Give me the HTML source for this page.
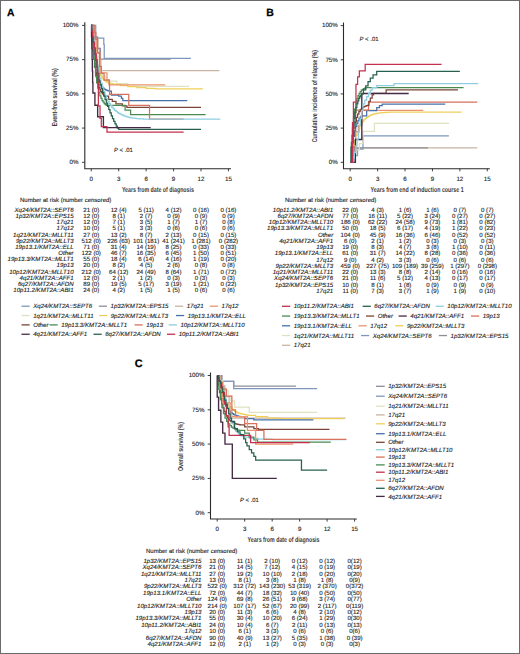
<!DOCTYPE html>
<html><head><meta charset="utf-8"><style>
html,body{margin:0;padding:0;background:#fff;overflow:hidden;width:520px;height:654px;}
svg{display:block;}
text{font-family:"Liberation Sans",sans-serif;text-rendering:geometricPrecision;}
.t{stroke:#222;stroke-width:0.12px;}
</style></head><body>
<svg width="520" height="654" viewBox="0 0 520 654" font-family="Liberation Sans, sans-serif" fill="#333">
<rect x="0" y="0" width="520" height="654" fill="#fff"/>
<text x="6.9" y="15.5" font-size="10.3" font-weight="bold" fill="#000" stroke="#000" stroke-width="0.25">A</text>
<path d="M84.8 22.3V168.7H231" fill="none" stroke="#2a2a2a" stroke-width="1.1"/>
<path d="M82 162.3H84.8M82 128.08H84.8M82 93.85H84.8M82 59.62H84.8M82 25.4H84.8M91.25 168.7V171.3M118.69 168.7V171.3M146.13 168.7V171.3M173.57 168.7V171.3M201.01 168.7V171.3M228.46 168.7V171.3" stroke="#2a2a2a" stroke-width="0.9"/>
<text class="t" x="78.5" y="164.1" font-size="6.2" text-anchor="end" fill="#1a1a1a">0%</text>
<text class="t" x="78.5" y="129.88" font-size="6.2" text-anchor="end" fill="#1a1a1a">25%</text>
<text class="t" x="78.5" y="95.65" font-size="6.2" text-anchor="end" fill="#1a1a1a">50%</text>
<text class="t" x="78.5" y="61.42" font-size="6.2" text-anchor="end" fill="#1a1a1a">75%</text>
<text class="t" x="78.5" y="27.2" font-size="6.2" text-anchor="end" fill="#1a1a1a">100%</text>
<text class="t" x="91.25" y="180.6" font-size="6.2" text-anchor="middle" fill="#1a1a1a">0</text>
<text class="t" x="118.69" y="180.6" font-size="6.2" text-anchor="middle" fill="#1a1a1a">3</text>
<text class="t" x="146.13" y="180.6" font-size="6.2" text-anchor="middle" fill="#1a1a1a">6</text>
<text class="t" x="173.57" y="180.6" font-size="6.2" text-anchor="middle" fill="#1a1a1a">9</text>
<text class="t" x="201.01" y="180.6" font-size="6.2" text-anchor="middle" fill="#1a1a1a">12</text>
<text class="t" x="228.46" y="180.6" font-size="6.2" text-anchor="middle" fill="#1a1a1a">15</text>
<text x="157.9" y="191.7" font-size="7.2" text-anchor="middle" textLength="72" lengthAdjust="spacingAndGlyphs" fill="#3a3a3a" font-weight="bold">Years from date of diagnosis</text>
<text transform="translate(57.4 97.3) rotate(-90)" x="0" y="0" font-size="7.2" text-anchor="middle" textLength="58" lengthAdjust="spacingAndGlyphs" fill="#3a3a3a" font-weight="bold">Event-free survival (%)</text>
<text x="113.9" y="151.5" class="t" font-size="5.95" fill="#222"><tspan font-style="italic">P</tspan> &lt; .01</text>
<path d="M91.25 25.4H93.08V36.76H95.82V48.26H99.48V59.63H100.85V70.58H219.31" fill="none" stroke="#c9b4a2" stroke-width="1.25"/>
<path d="M91.25 25.4H92.62V35.53H93.99V45.66H95.82V55.79H97.65V65.92H99.48V70.99H102.23V76.05H105.89V81.12H116.86V83.72H127.84V86.32H189.12" fill="none" stroke="#dfe2c0" stroke-width="1.25"/>
<path d="M91.25 25.4H93.99V36.76H97.65V48.26H100.4V59.08H170.83" fill="none" stroke="#8e8e98" stroke-width="1.25"/>
<path d="M91.25 25.4H95.73V38.13H103.78V44.29H104.24V58.39H190.95" fill="none" stroke="#7f97bc" stroke-width="1.25"/>
<path d="M91.25 25.4H92.16V35.27H93.08V43.51H93.99V50.37H94.91V56.09H95.82V60.86H96.74V64.84H97.65V68.16H98.57V70.92H99.48V73.23H100.4V75.15H101.31V76.75H102.23V78.09H103.14V79.21H104.06V80.13H104.97V80.91H105.89V81.55H106.8V82.09H107.71V82.54H108.63V82.92H109.54V83.23H110.46V83.49H111.37V83.7H112.29V83.89H113.2V84.04H114.12V84.16H115.03V84.27H120.52V85.64H127.84V86.73H136.99V87.69H146.13V88.37H155.28V88.92H202.84" fill="none" stroke="#efcf5a" stroke-width="1.25"/>
<path d="M91.25 25.4H93.99V39.09H96.74V52.78H99.94V72.9H106.98V79.75H109.27V84.95H165.34" fill="none" stroke="#ec9470" stroke-width="1.25"/>
<path d="M91.25 25.4H92.39V41.53H93.54V53.74H94.68V63H95.82V70H96.97V75.31H98.11V79.33H99.25V82.38H100.4V84.69H101.54V86.43H102.68V87.76H103.83V88.76H104.97V89.52H106.11V90.1H107.26V90.53H108.4V90.86H109.54V91.11H111.37V95.22H118.69V96.04H121.44V98.37H122.81V100.7H187.29" fill="none" stroke="#4672aa" stroke-width="1.25"/>
<path d="M91.25 25.4H92.11V39.18H92.97V50.36H93.82V59.44H94.68V66.82H95.54V72.8H96.4V77.67H97.25V81.61H98.11V84.82H98.97V87.42H99.83V89.53H100.68V91.25H101.54V92.64H102.4V93.77H103.26V94.69H104.11V95.44H104.97V96.04H108.63V99.33H112.29V101.38H115.95V103.98H122.35V105.76H126.92V107.27H201.01" fill="none" stroke="#7a4538" stroke-width="1.25"/>
<path d="M91.25 25.4H92.33V42.83H93.41V56.6H94.48V67.48H95.56V76.08H96.64V82.87H97.72V88.23H98.8V92.47H99.87V95.82H100.95V98.46H102.03V100.55H103.11V102.2H104.19V103.51H105.26V104.54H106.34V105.35H125.09V106.99H125.09V110H130.58V114.66H205.59" fill="none" stroke="#4a8a52" stroke-width="1.25"/>
<path d="M91.25 25.4H93.99V32.25H95.82V39.09H97.65V52.78H99.48V66.47H101.31V73.32H104.06V80.16H109.27V84.95H109.54V94.26H128.75V105.35H149.52V119.18H183.63" fill="none" stroke="#d8705c" stroke-width="1.25"/>
<path d="M91.25 25.4H92.62V37.41H93.99V47.88H95.37V57.02H96.74V65H98.11V71.95H99.48V78.02H100.85V83.32H102.23V87.94H103.6V91.98H104.97V95.49H106.34V98.57H107.71V101.24H109.09V103.58H110.46V105.62H111.83V107.4H113.2V108.95H114.57V110.31H115.95V111.49H117.32V112.52H118.69V113.42H120.06V114.21H121.44V114.89H122.81V115.49H124.18V116.01H125.55V116.46H126.92V116.86H128.3V117.21H129.67V117.51H131.04V117.77H132.41V118H133.78V118.21H135.16V118.38H136.53V118.53H137.9V118.67H139.27V118.78H140.64V118.88H142.02V118.97H143.39V119.05H144.76V119.12H146.13V119.18H220.22" fill="none" stroke="#8fcde0" stroke-width="1.25"/>
<path d="M91.25 25.4H91.71V29.51H92.16V33.61H92.62V37.72H93.08V41.83H93.99V47.3H94.91V54.15H95.82V60.99H96.74V67.15H97.65V73.32H98.84V80.84H100.09V84.76H101.32V88.59H102.56V92.34H103.81V96.01H105.04V99.59H106.29V103.06H107.52V106.44H108.77V109.7H110.01V112.85H111.25V115.86H112.49V118.72H113.73V121.42H114.97V123.93H116.21V126.19H117.45V128.12H118.69V129.44H201.01" fill="none" stroke="#27604f" stroke-width="1.25"/>
<path d="M91.25 25.4H91.52V36.76H91.8V48.26H92.07V59.63H92.35V70.99H92.62V82.49H92.9V93.03H94.91V105.21H97.65V116.71H103.42V127.66H150.71" fill="none" stroke="#452a45" stroke-width="1.35"/>
<path d="M91.25 25.4H91.71V31.15H92.62V36.76H93.54V42.51H94.45V48.26H95.37V53.88H96.28V59.63H97.2V70.99H97.84V82.49H98.38V105.76H100.03V118.49H101.31V126.71H106.98V132.18H183.63" fill="none" stroke="#c4304e" stroke-width="1.25"/>
<text class="t" x="20" y="202.1" font-size="6" fill="#222">Number at risk (number censored)</text>
<text class="t" x="73.6" y="211.8" font-size="6.12" text-anchor="end" font-style="italic" fill="#222">Xq24/KMT2A::SEPT6</text>
<text class="t" x="91.25" y="211.8" font-size="6.1" text-anchor="middle" fill="#222">21 (0)</text>
<text class="t" x="118.69" y="211.8" font-size="6.1" text-anchor="middle" fill="#222">12 (4)</text>
<text class="t" x="146.13" y="211.8" font-size="6.1" text-anchor="middle" fill="#222">5 (11)</text>
<text class="t" x="173.57" y="211.8" font-size="6.1" text-anchor="middle" fill="#222">4 (12)</text>
<text class="t" x="201.01" y="211.8" font-size="6.1" text-anchor="middle" fill="#222">0 (16)</text>
<text class="t" x="228.46" y="211.8" font-size="6.1" text-anchor="middle" fill="#222">0 (16)</text>
<text class="t" x="73.6" y="217.98" font-size="6.12" text-anchor="end" font-style="italic" fill="#222">1p32/KMT2A::EPS15</text>
<text class="t" x="91.25" y="217.98" font-size="6.1" text-anchor="middle" fill="#222">12 (0)</text>
<text class="t" x="118.69" y="217.98" font-size="6.1" text-anchor="middle" fill="#222">8 (1)</text>
<text class="t" x="146.13" y="217.98" font-size="6.1" text-anchor="middle" fill="#222">2 (7)</text>
<text class="t" x="173.57" y="217.98" font-size="6.1" text-anchor="middle" fill="#222">0 (9)</text>
<text class="t" x="201.01" y="217.98" font-size="6.1" text-anchor="middle" fill="#222">0 (9)</text>
<text class="t" x="228.46" y="217.98" font-size="6.1" text-anchor="middle" fill="#222">0 (9)</text>
<text class="t" x="73.6" y="224.16" font-size="6.12" text-anchor="end" font-style="italic" fill="#222">17q21</text>
<text class="t" x="91.25" y="224.16" font-size="6.1" text-anchor="middle" fill="#222">12 (0)</text>
<text class="t" x="118.69" y="224.16" font-size="6.1" text-anchor="middle" fill="#222">7 (1)</text>
<text class="t" x="146.13" y="224.16" font-size="6.1" text-anchor="middle" fill="#222">3 (5)</text>
<text class="t" x="173.57" y="224.16" font-size="6.1" text-anchor="middle" fill="#222">1 (7)</text>
<text class="t" x="201.01" y="224.16" font-size="6.1" text-anchor="middle" fill="#222">1 (7)</text>
<text class="t" x="228.46" y="224.16" font-size="6.1" text-anchor="middle" fill="#222">0 (8)</text>
<text class="t" x="73.6" y="230.34" font-size="6.12" text-anchor="end" font-style="italic" fill="#222">17q12</text>
<text class="t" x="91.25" y="230.34" font-size="6.1" text-anchor="middle" fill="#222">10 (0)</text>
<text class="t" x="118.69" y="230.34" font-size="6.1" text-anchor="middle" fill="#222">5 (1)</text>
<text class="t" x="146.13" y="230.34" font-size="6.1" text-anchor="middle" fill="#222">3 (3)</text>
<text class="t" x="173.57" y="230.34" font-size="6.1" text-anchor="middle" fill="#222">0 (6)</text>
<text class="t" x="201.01" y="230.34" font-size="6.1" text-anchor="middle" fill="#222">0 (6)</text>
<text class="t" x="228.46" y="230.34" font-size="6.1" text-anchor="middle" fill="#222">0 (6)</text>
<text class="t" x="73.6" y="236.52" font-size="6.12" text-anchor="end" font-style="italic" fill="#222">1q21/KMT2A::MLLT11</text>
<text class="t" x="91.25" y="236.52" font-size="6.1" text-anchor="middle" fill="#222">27 (0)</text>
<text class="t" x="118.69" y="236.52" font-size="6.1" text-anchor="middle" fill="#222">13 (2)</text>
<text class="t" x="146.13" y="236.52" font-size="6.1" text-anchor="middle" fill="#222">8 (7)</text>
<text class="t" x="173.57" y="236.52" font-size="6.1" text-anchor="middle" fill="#222">2 (13)</text>
<text class="t" x="201.01" y="236.52" font-size="6.1" text-anchor="middle" fill="#222">0 (15)</text>
<text class="t" x="228.46" y="236.52" font-size="6.1" text-anchor="middle" fill="#222">0 (15)</text>
<text class="t" x="73.6" y="242.7" font-size="6.12" text-anchor="end" font-style="italic" fill="#222">9p22/KMT2A::MLLT3</text>
<text class="t" x="91.25" y="242.7" font-size="6.1" text-anchor="middle" fill="#222">512 (0)</text>
<text class="t" x="118.69" y="242.7" font-size="6.1" text-anchor="middle" fill="#222">226 (63)</text>
<text class="t" x="146.13" y="242.7" font-size="6.1" text-anchor="middle" fill="#222">101 (181)</text>
<text class="t" x="173.57" y="242.7" font-size="6.1" text-anchor="middle" fill="#222">41 (241)</text>
<text class="t" x="201.01" y="242.7" font-size="6.1" text-anchor="middle" fill="#222">1 (281)</text>
<text class="t" x="228.46" y="242.7" font-size="6.1" text-anchor="middle" fill="#222">0 (282)</text>
<text class="t" x="73.6" y="248.88" font-size="6.12" text-anchor="end" font-style="italic" fill="#222">19p13.1/KMT2A::ELL</text>
<text class="t" x="91.25" y="248.88" font-size="6.1" text-anchor="middle" fill="#222">71 (0)</text>
<text class="t" x="118.69" y="248.88" font-size="6.1" text-anchor="middle" fill="#222">31 (4)</text>
<text class="t" x="146.13" y="248.88" font-size="6.1" text-anchor="middle" fill="#222">14 (19)</text>
<text class="t" x="173.57" y="248.88" font-size="6.1" text-anchor="middle" fill="#222">8 (25)</text>
<text class="t" x="201.01" y="248.88" font-size="6.1" text-anchor="middle" fill="#222">0 (33)</text>
<text class="t" x="228.46" y="248.88" font-size="6.1" text-anchor="middle" fill="#222">0 (33)</text>
<text class="t" x="73.6" y="255.06" font-size="6.12" text-anchor="end" font-style="italic" fill="#222">Other</text>
<text class="t" x="91.25" y="255.06" font-size="6.1" text-anchor="middle" fill="#222">122 (0)</text>
<text class="t" x="118.69" y="255.06" font-size="6.1" text-anchor="middle" fill="#222">46 (7)</text>
<text class="t" x="146.13" y="255.06" font-size="6.1" text-anchor="middle" fill="#222">16 (35)</text>
<text class="t" x="173.57" y="255.06" font-size="6.1" text-anchor="middle" fill="#222">6 (45)</text>
<text class="t" x="201.01" y="255.06" font-size="6.1" text-anchor="middle" fill="#222">1 (50)</text>
<text class="t" x="228.46" y="255.06" font-size="6.1" text-anchor="middle" fill="#222">0 (51)</text>
<text class="t" x="73.6" y="261.24" font-size="6.12" text-anchor="end" font-style="italic" fill="#222">19p13.3/KMT2A::MLLT1</text>
<text class="t" x="91.25" y="261.24" font-size="6.1" text-anchor="middle" fill="#222">55 (0)</text>
<text class="t" x="118.69" y="261.24" font-size="6.1" text-anchor="middle" fill="#222">18 (4)</text>
<text class="t" x="146.13" y="261.24" font-size="6.1" text-anchor="middle" fill="#222">6 (14)</text>
<text class="t" x="173.57" y="261.24" font-size="6.1" text-anchor="middle" fill="#222">4 (16)</text>
<text class="t" x="201.01" y="261.24" font-size="6.1" text-anchor="middle" fill="#222">1 (19)</text>
<text class="t" x="228.46" y="261.24" font-size="6.1" text-anchor="middle" fill="#222">0 (20)</text>
<text class="t" x="73.6" y="267.42" font-size="6.12" text-anchor="end" font-style="italic" fill="#222">19p13</text>
<text class="t" x="91.25" y="267.42" font-size="6.1" text-anchor="middle" fill="#222">20 (0)</text>
<text class="t" x="118.69" y="267.42" font-size="6.1" text-anchor="middle" fill="#222">8 (2)</text>
<text class="t" x="146.13" y="267.42" font-size="6.1" text-anchor="middle" fill="#222">4 (5)</text>
<text class="t" x="173.57" y="267.42" font-size="6.1" text-anchor="middle" fill="#222">2 (6)</text>
<text class="t" x="201.01" y="267.42" font-size="6.1" text-anchor="middle" fill="#222">0 (8)</text>
<text class="t" x="228.46" y="267.42" font-size="6.1" text-anchor="middle" fill="#222">0 (8)</text>
<text class="t" x="73.6" y="273.6" font-size="6.12" text-anchor="end" font-style="italic" fill="#222">10p12/KMT2A::MLLT10</text>
<text class="t" x="91.25" y="273.6" font-size="6.1" text-anchor="middle" fill="#222">212 (0)</text>
<text class="t" x="118.69" y="273.6" font-size="6.1" text-anchor="middle" fill="#222">64 (12)</text>
<text class="t" x="146.13" y="273.6" font-size="6.1" text-anchor="middle" fill="#222">24 (49)</text>
<text class="t" x="173.57" y="273.6" font-size="6.1" text-anchor="middle" fill="#222">8 (64)</text>
<text class="t" x="201.01" y="273.6" font-size="6.1" text-anchor="middle" fill="#222">1 (71)</text>
<text class="t" x="228.46" y="273.6" font-size="6.1" text-anchor="middle" fill="#222">0 (72)</text>
<text class="t" x="73.6" y="279.78" font-size="6.12" text-anchor="end" font-style="italic" fill="#222">4q21/KMT2A::AFF1</text>
<text class="t" x="91.25" y="279.78" font-size="6.1" text-anchor="middle" fill="#222">12 (0)</text>
<text class="t" x="118.69" y="279.78" font-size="6.1" text-anchor="middle" fill="#222">2 (1)</text>
<text class="t" x="146.13" y="279.78" font-size="6.1" text-anchor="middle" fill="#222">1 (2)</text>
<text class="t" x="173.57" y="279.78" font-size="6.1" text-anchor="middle" fill="#222">0 (3)</text>
<text class="t" x="201.01" y="279.78" font-size="6.1" text-anchor="middle" fill="#222">0 (3)</text>
<text class="t" x="228.46" y="279.78" font-size="6.1" text-anchor="middle" fill="#222">0 (3)</text>
<text class="t" x="73.6" y="285.96" font-size="6.12" text-anchor="end" font-style="italic" fill="#222">6q27/KMT2A::AFDN</text>
<text class="t" x="91.25" y="285.96" font-size="6.1" text-anchor="middle" fill="#222">89 (0)</text>
<text class="t" x="118.69" y="285.96" font-size="6.1" text-anchor="middle" fill="#222">19 (5)</text>
<text class="t" x="146.13" y="285.96" font-size="6.1" text-anchor="middle" fill="#222">5 (17)</text>
<text class="t" x="173.57" y="285.96" font-size="6.1" text-anchor="middle" fill="#222">3 (19)</text>
<text class="t" x="201.01" y="285.96" font-size="6.1" text-anchor="middle" fill="#222">1 (21)</text>
<text class="t" x="228.46" y="285.96" font-size="6.1" text-anchor="middle" fill="#222">0 (22)</text>
<text class="t" x="73.6" y="292.14" font-size="6.12" text-anchor="end" font-style="italic" fill="#222">10p11.2/KMT2A::ABI1</text>
<text class="t" x="91.25" y="292.14" font-size="6.1" text-anchor="middle" fill="#222">24 (0)</text>
<text class="t" x="118.69" y="292.14" font-size="6.1" text-anchor="middle" fill="#222">4 (2)</text>
<text class="t" x="146.13" y="292.14" font-size="6.1" text-anchor="middle" fill="#222">1 (5)</text>
<text class="t" x="173.57" y="292.14" font-size="6.1" text-anchor="middle" fill="#222">1 (5)</text>
<text class="t" x="201.01" y="292.14" font-size="6.1" text-anchor="middle" fill="#222">0 (6)</text>
<text class="t" x="228.46" y="292.14" font-size="6.1" text-anchor="middle" fill="#222">0 (6)</text>
<path d="M21.5 306.2H29.7" stroke="#7f97bc" stroke-width="1.3"/>
<text class="t" x="33.2" y="308.3" font-size="6.1" font-style="italic" fill="#222">Xq24/KMT2A::SEPT6</text>
<path d="M98.8 306.2H107" stroke="#8e8e98" stroke-width="1.3"/>
<text class="t" x="110.5" y="308.3" font-size="6.1" font-style="italic" fill="#222">1p32/KMT2A::EPS15</text>
<path d="M175 306.2H183.2" stroke="#c9b4a2" stroke-width="1.3"/>
<text class="t" x="186.7" y="308.3" font-size="6.1" font-style="italic" fill="#222">17q21</text>
<path d="M209.8 306.2H218" stroke="#ec9470" stroke-width="1.3"/>
<text class="t" x="221.5" y="308.3" font-size="6.1" font-style="italic" fill="#222">17q12</text>
<path d="M21.5 315.55H29.7" stroke="#dfe2c0" stroke-width="1.3"/>
<text class="t" x="33.2" y="317.65" font-size="6.1" font-style="italic" fill="#222">1q21/KMT2A::MLLT11</text>
<path d="M99 315.55H107.2" stroke="#efcf5a" stroke-width="1.3"/>
<text class="t" x="110.7" y="317.65" font-size="6.1" font-style="italic" fill="#222">9p22/KMT2A::MLLT3</text>
<path d="M176 315.55H184.2" stroke="#4672aa" stroke-width="1.3"/>
<text class="t" x="187.7" y="317.65" font-size="6.1" font-style="italic" fill="#222">19p13.1/KMT2A::ELL</text>
<path d="M21.5 324.9H29.7" stroke="#7a4538" stroke-width="1.3"/>
<text class="t" x="33.2" y="327" font-size="6.1" font-style="italic" fill="#222">Other</text>
<path d="M49.5 324.9H57.7" stroke="#4a8a52" stroke-width="1.3"/>
<text class="t" x="61.2" y="327" font-size="6.1" font-style="italic" fill="#222">19p13.3/KMT2A::MLLT1</text>
<path d="M134.5 324.9H142.7" stroke="#d8705c" stroke-width="1.3"/>
<text class="t" x="146.2" y="327" font-size="6.1" font-style="italic" fill="#222">19p13</text>
<path d="M168.7 324.9H176.9" stroke="#8fcde0" stroke-width="1.3"/>
<text class="t" x="180.4" y="327" font-size="6.1" font-style="italic" fill="#222">10p12/KMT2A::MLLT10</text>
<path d="M21.5 334.25H29.7" stroke="#452a45" stroke-width="1.3"/>
<text class="t" x="33.2" y="336.35" font-size="6.1" font-style="italic" fill="#222">4q21/KMT2A::AFF1</text>
<path d="M93.5 334.25H101.7" stroke="#27604f" stroke-width="1.3"/>
<text class="t" x="105.2" y="336.35" font-size="6.1" font-style="italic" fill="#222">6q27/KMT2A::AFDN</text>
<path d="M167 334.25H175.2" stroke="#c4304e" stroke-width="1.3"/>
<text class="t" x="178.7" y="336.35" font-size="6.1" font-style="italic" fill="#222">10p11.2/KMT2A::ABI1</text>
<text x="266.2" y="15.8" font-size="10.5" font-weight="bold" fill="#000" stroke="#000" stroke-width="0.25">B</text>
<path d="M343.5 22.6V168.7H489.8" fill="none" stroke="#2a2a2a" stroke-width="1.1"/>
<path d="M340.7 162.3H343.5M340.7 128.12H343.5M340.7 93.95H343.5M340.7 59.78H343.5M340.7 25.6H343.5M350.2 168.7V171.3M377.62 168.7V171.3M405.04 168.7V171.3M432.46 168.7V171.3M459.88 168.7V171.3M487.3 168.7V171.3" stroke="#2a2a2a" stroke-width="0.9"/>
<text class="t" x="337.8" y="164.1" font-size="6.2" text-anchor="end" fill="#1a1a1a">0%</text>
<text class="t" x="337.8" y="129.93" font-size="6.2" text-anchor="end" fill="#1a1a1a">25%</text>
<text class="t" x="337.8" y="95.75" font-size="6.2" text-anchor="end" fill="#1a1a1a">50%</text>
<text class="t" x="337.8" y="61.58" font-size="6.2" text-anchor="end" fill="#1a1a1a">75%</text>
<text class="t" x="337.8" y="27.4" font-size="6.2" text-anchor="end" fill="#1a1a1a">100%</text>
<text class="t" x="350.2" y="180.6" font-size="6.2" text-anchor="middle" fill="#1a1a1a">0</text>
<text class="t" x="377.62" y="180.6" font-size="6.2" text-anchor="middle" fill="#1a1a1a">3</text>
<text class="t" x="405.04" y="180.6" font-size="6.2" text-anchor="middle" fill="#1a1a1a">6</text>
<text class="t" x="432.46" y="180.6" font-size="6.2" text-anchor="middle" fill="#1a1a1a">9</text>
<text class="t" x="459.88" y="180.6" font-size="6.2" text-anchor="middle" fill="#1a1a1a">12</text>
<text class="t" x="487.3" y="180.6" font-size="6.2" text-anchor="middle" fill="#1a1a1a">15</text>
<text x="417.1" y="192" font-size="7.2" text-anchor="middle" textLength="93" lengthAdjust="spacingAndGlyphs" fill="#3a3a3a" font-weight="bold">Years from end of induction course 1</text>
<text transform="translate(317.0 96.1) rotate(-90)" x="0" y="0" font-size="7.2" text-anchor="middle" textLength="92.4" lengthAdjust="spacingAndGlyphs" fill="#3a3a3a" font-weight="bold">Cumulative incidence of relapse (%)</text>
<text x="359.5" y="40.9" class="t" font-size="5.95" fill="#222"><tspan font-style="italic">P</tspan> &lt; .01</text>
<path d="M350.2 162.3H352.94V149.86H357.06V147.95H477.25" fill="none" stroke="#c9b4a2" stroke-width="1.25"/>
<path d="M350.2 162.3H353.86V147.95H427.89" fill="none" stroke="#8e8e98" stroke-width="1.25"/>
<path d="M350.2 162.3H353.86V155.74H357.51V149.18H363V142.62H363V135.78H448.91" fill="none" stroke="#7f97bc" stroke-width="1.25"/>
<path d="M350.2 162.3H352.94V156.15H355.68V149.86H359.34V143.71H363V131.27H374.42V131.27H374.42V123.48H448.91" fill="none" stroke="#dfe2c0" stroke-width="1.25"/>
<path d="M350.2 162.3H351.57V153.69H352.94V146.55H354.31V140.64H355.68V135.73H357.06V131.67H358.43V128.3H359.8V125.5H361.17V123.18H362.54V121.26H363.91V119.67H365.28V118.35H366.65V117.26H368.02V116.35H369.39V115.6H370.76V114.97H372.14V114.46H373.51V114.03H374.88V113.67H376.25V113.38H377.62V113.13H378.99V112.93H380.36V112.76H381.73V112.62H383.1V112.51H384.48V112.41H385.85V112.33H387.22V112.27H388.59V112.21H389.96V112.17H391.33V112.13H461.71" fill="none" stroke="#efcf5a" stroke-width="1.25"/>
<path d="M350.2 162.3H352.94V147.13H355.68V131.95H358.43V125.39H361.81V110.35H423.32" fill="none" stroke="#ec9470" stroke-width="1.25"/>
<path d="M350.2 162.3H351.3V151.39H352.39V142.81H353.49V136.07H354.59V130.76H355.68V126.58H356.78V123.3H357.88V120.71H358.97V118.68H360.07V117.08H361.17V115.82H366.65V110.63H376.71V107.62H379.45V105.57H382.19V104.2H445.26" fill="none" stroke="#4672aa" stroke-width="1.25"/>
<path d="M350.2 162.3H352.49V147.95H352.49V133.59H352.49V122.93H355.23V122.93H355.68V110.08H362.08V110.08H368.48V102.15H477.25" fill="none" stroke="#d8705c" stroke-width="1.25"/>
<path d="M350.2 162.3H351.44V147.27H352.68V136.16H353.92V127.94H355.16V121.86H356.4V117.36H357.64V114.04H358.88V111.58H360.12V109.76H361.36V108.41H362.6V107.41H363.84V106.68H365.09V106.13H366.33V105.73H367.57V105.43H368.94V101.47H370.31V98.05H372.14V94.91H373.51V93.27H386.12V89.85H458.05" fill="none" stroke="#7a4538" stroke-width="1.25"/>
<path d="M350.2 162.3H355.41V139.47H361.81V116.78H361.81V93.54H408.7" fill="none" stroke="#452a45" stroke-width="1.35"/>
<path d="M350.2 162.3H351.31V142.48H352.42V127.84H353.53V117.04H354.64V109.06H355.75V103.18H356.86V98.83H357.97V95.62H359.08V93.26H360.19V91.51H361.3V90.22H362.41V89.27H363.52V88.56H364.63V88.04H365.74V87.66H463.54" fill="none" stroke="#4a8a52" stroke-width="1.25"/>
<path d="M350.2 162.3H352.94V158.2H354.31V152.73H355.68V145.9H357.06V139.06H358.43V132.23H359.34V125.39H360.25V118.56H361.62V110.35H363V103.79H364.82V100.1H366.65V96.68H368.48V93.27H370.31V90.12H372.14V87.66H376.71V85.61H394.07V83.7H478.16" fill="none" stroke="#8fcde0" stroke-width="1.25"/>
<path d="M350.2 162.3H351.15V147.24H352.1V135.29H353.06V125.81H354.01V118.29H354.96V112.33H355.91V107.59H356.86V103.84H357.82V100.86H358.77V98.49H359.72V96.62H360.67V95.13H361.62V93.95H363.45V89.85H365.74V85.75H368.02V81.65H370.31V78.23H373.05V74.81H376.71V71.26H459.88" fill="none" stroke="#27604f" stroke-width="1.25"/>
<path d="M350.2 162.3H352.58V122.66H353.4V102.15H355.96V84.38H357.6V76.86H359.34V70.98H365.19V64.29H441.6" fill="none" stroke="#c4304e" stroke-width="1.25"/>
<text class="t" x="285" y="201.6" font-size="6" fill="#222">Number at risk (number censored)</text>
<text class="t" x="333.2" y="211.5" font-size="6.12" text-anchor="end" font-style="italic" fill="#222">10p11.2/KMT2A::ABI1</text>
<text class="t" x="350.2" y="211.5" font-size="6.1" text-anchor="middle" fill="#222">22 (0)</text>
<text class="t" x="377.62" y="211.5" font-size="6.1" text-anchor="middle" fill="#222">4 (3)</text>
<text class="t" x="405.04" y="211.5" font-size="6.1" text-anchor="middle" fill="#222">1 (6)</text>
<text class="t" x="432.46" y="211.5" font-size="6.1" text-anchor="middle" fill="#222">1 (6)</text>
<text class="t" x="459.88" y="211.5" font-size="6.1" text-anchor="middle" fill="#222">0 (7)</text>
<text class="t" x="487.3" y="211.5" font-size="6.1" text-anchor="middle" fill="#222">0 (7)</text>
<text class="t" x="333.2" y="217.76" font-size="6.12" text-anchor="end" font-style="italic" fill="#222">6q27/KMT2A::AFDN</text>
<text class="t" x="350.2" y="217.76" font-size="6.1" text-anchor="middle" fill="#222">77 (0)</text>
<text class="t" x="377.62" y="217.76" font-size="6.1" text-anchor="middle" fill="#222">16 (11)</text>
<text class="t" x="405.04" y="217.76" font-size="6.1" text-anchor="middle" fill="#222">5 (22)</text>
<text class="t" x="432.46" y="217.76" font-size="6.1" text-anchor="middle" fill="#222">3 (24)</text>
<text class="t" x="459.88" y="217.76" font-size="6.1" text-anchor="middle" fill="#222">0 (27)</text>
<text class="t" x="487.3" y="217.76" font-size="6.1" text-anchor="middle" fill="#222">0 (27)</text>
<text class="t" x="333.2" y="224.02" font-size="6.12" text-anchor="end" font-style="italic" fill="#222">10p12/KMT2A::MLLT10</text>
<text class="t" x="350.2" y="224.02" font-size="6.1" text-anchor="middle" fill="#222">186 (0)</text>
<text class="t" x="377.62" y="224.02" font-size="6.1" text-anchor="middle" fill="#222">62 (22)</text>
<text class="t" x="405.04" y="224.02" font-size="6.1" text-anchor="middle" fill="#222">24 (58)</text>
<text class="t" x="432.46" y="224.02" font-size="6.1" text-anchor="middle" fill="#222">9 (73)</text>
<text class="t" x="459.88" y="224.02" font-size="6.1" text-anchor="middle" fill="#222">1 (81)</text>
<text class="t" x="487.3" y="224.02" font-size="6.1" text-anchor="middle" fill="#222">0 (82)</text>
<text class="t" x="333.2" y="230.28" font-size="6.12" text-anchor="end" font-style="italic" fill="#222">19p13.3/KMT2A::MLLT1</text>
<text class="t" x="350.2" y="230.28" font-size="6.1" text-anchor="middle" fill="#222">50 (0)</text>
<text class="t" x="377.62" y="230.28" font-size="6.1" text-anchor="middle" fill="#222">18 (5)</text>
<text class="t" x="405.04" y="230.28" font-size="6.1" text-anchor="middle" fill="#222">6 (17)</text>
<text class="t" x="432.46" y="230.28" font-size="6.1" text-anchor="middle" fill="#222">4 (19)</text>
<text class="t" x="459.88" y="230.28" font-size="6.1" text-anchor="middle" fill="#222">1 (22)</text>
<text class="t" x="487.3" y="230.28" font-size="6.1" text-anchor="middle" fill="#222">0 (23)</text>
<text class="t" x="333.2" y="236.54" font-size="6.12" text-anchor="end" font-style="italic" fill="#222">Other</text>
<text class="t" x="350.2" y="236.54" font-size="6.1" text-anchor="middle" fill="#222">104 (0)</text>
<text class="t" x="377.62" y="236.54" font-size="6.1" text-anchor="middle" fill="#222">45 (9)</text>
<text class="t" x="405.04" y="236.54" font-size="6.1" text-anchor="middle" fill="#222">16 (36)</text>
<text class="t" x="432.46" y="236.54" font-size="6.1" text-anchor="middle" fill="#222">6 (46)</text>
<text class="t" x="459.88" y="236.54" font-size="6.1" text-anchor="middle" fill="#222">0 (52)</text>
<text class="t" x="487.3" y="236.54" font-size="6.1" text-anchor="middle" fill="#222">0 (52)</text>
<text class="t" x="333.2" y="242.8" font-size="6.12" text-anchor="end" font-style="italic" fill="#222">4q21/KMT2A::AFF1</text>
<text class="t" x="350.2" y="242.8" font-size="6.1" text-anchor="middle" fill="#222">6 (0)</text>
<text class="t" x="377.62" y="242.8" font-size="6.1" text-anchor="middle" fill="#222">2 (1)</text>
<text class="t" x="405.04" y="242.8" font-size="6.1" text-anchor="middle" fill="#222">1 (2)</text>
<text class="t" x="432.46" y="242.8" font-size="6.1" text-anchor="middle" fill="#222">0 (3)</text>
<text class="t" x="459.88" y="242.8" font-size="6.1" text-anchor="middle" fill="#222">0 (3)</text>
<text class="t" x="487.3" y="242.8" font-size="6.1" text-anchor="middle" fill="#222">0 (3)</text>
<text class="t" x="333.2" y="249.06" font-size="6.12" text-anchor="end" font-style="italic" fill="#222">19p13</text>
<text class="t" x="350.2" y="249.06" font-size="6.1" text-anchor="middle" fill="#222">19 (0)</text>
<text class="t" x="377.62" y="249.06" font-size="6.1" text-anchor="middle" fill="#222">8 (3)</text>
<text class="t" x="405.04" y="249.06" font-size="6.1" text-anchor="middle" fill="#222">4 (7)</text>
<text class="t" x="432.46" y="249.06" font-size="6.1" text-anchor="middle" fill="#222">3 (8)</text>
<text class="t" x="459.88" y="249.06" font-size="6.1" text-anchor="middle" fill="#222">1 (10)</text>
<text class="t" x="487.3" y="249.06" font-size="6.1" text-anchor="middle" fill="#222">0 (11)</text>
<text class="t" x="333.2" y="255.32" font-size="6.12" text-anchor="end" font-style="italic" fill="#222">19p13.1/KMT2A::ELL</text>
<text class="t" x="350.2" y="255.32" font-size="6.1" text-anchor="middle" fill="#222">61 (0)</text>
<text class="t" x="377.62" y="255.32" font-size="6.1" text-anchor="middle" fill="#222">31 (7)</text>
<text class="t" x="405.04" y="255.32" font-size="6.1" text-anchor="middle" fill="#222">14 (22)</text>
<text class="t" x="432.46" y="255.32" font-size="6.1" text-anchor="middle" fill="#222">8 (28)</text>
<text class="t" x="459.88" y="255.32" font-size="6.1" text-anchor="middle" fill="#222">0 (36)</text>
<text class="t" x="487.3" y="255.32" font-size="6.1" text-anchor="middle" fill="#222">0 (36)</text>
<text class="t" x="333.2" y="261.58" font-size="6.12" text-anchor="end" font-style="italic" fill="#222">17q12</text>
<text class="t" x="350.2" y="261.58" font-size="6.1" text-anchor="middle" fill="#222">9 (0)</text>
<text class="t" x="377.62" y="261.58" font-size="6.1" text-anchor="middle" fill="#222">4 (2)</text>
<text class="t" x="405.04" y="261.58" font-size="6.1" text-anchor="middle" fill="#222">3 (3)</text>
<text class="t" x="432.46" y="261.58" font-size="6.1" text-anchor="middle" fill="#222">0 (6)</text>
<text class="t" x="459.88" y="261.58" font-size="6.1" text-anchor="middle" fill="#222">0 (6)</text>
<text class="t" x="487.3" y="261.58" font-size="6.1" text-anchor="middle" fill="#222">0 (6)</text>
<text class="t" x="333.2" y="267.84" font-size="6.12" text-anchor="end" font-style="italic" fill="#222">9p22/KMT2A::MLLT3</text>
<text class="t" x="350.2" y="267.84" font-size="6.1" text-anchor="middle" fill="#222">459 (0)</text>
<text class="t" x="377.62" y="267.84" font-size="6.1" text-anchor="middle" fill="#222">227 (75)</text>
<text class="t" x="405.04" y="267.84" font-size="6.1" text-anchor="middle" fill="#222">109 (189)</text>
<text class="t" x="432.46" y="267.84" font-size="6.1" text-anchor="middle" fill="#222">39 (259)</text>
<text class="t" x="459.88" y="267.84" font-size="6.1" text-anchor="middle" fill="#222">1 (297)</text>
<text class="t" x="487.3" y="267.84" font-size="6.1" text-anchor="middle" fill="#222">0 (298)</text>
<text class="t" x="333.2" y="274.1" font-size="6.12" text-anchor="end" font-style="italic" fill="#222">1q21/KMT2A::MLLT11</text>
<text class="t" x="350.2" y="274.1" font-size="6.1" text-anchor="middle" fill="#222">22 (0)</text>
<text class="t" x="377.62" y="274.1" font-size="6.1" text-anchor="middle" fill="#222">13 (3)</text>
<text class="t" x="405.04" y="274.1" font-size="6.1" text-anchor="middle" fill="#222">8 (8)</text>
<text class="t" x="432.46" y="274.1" font-size="6.1" text-anchor="middle" fill="#222">2 (14)</text>
<text class="t" x="459.88" y="274.1" font-size="6.1" text-anchor="middle" fill="#222">0 (16)</text>
<text class="t" x="487.3" y="274.1" font-size="6.1" text-anchor="middle" fill="#222">0 (16)</text>
<text class="t" x="333.2" y="280.36" font-size="6.12" text-anchor="end" font-style="italic" fill="#222">Xq24/KMT2A::SEPT6</text>
<text class="t" x="350.2" y="280.36" font-size="6.1" text-anchor="middle" fill="#222">21 (0)</text>
<text class="t" x="377.62" y="280.36" font-size="6.1" text-anchor="middle" fill="#222">11 (6)</text>
<text class="t" x="405.04" y="280.36" font-size="6.1" text-anchor="middle" fill="#222">5 (12)</text>
<text class="t" x="432.46" y="280.36" font-size="6.1" text-anchor="middle" fill="#222">4 (13)</text>
<text class="t" x="459.88" y="280.36" font-size="6.1" text-anchor="middle" fill="#222">0 (17)</text>
<text class="t" x="487.3" y="280.36" font-size="6.1" text-anchor="middle" fill="#222">0 (17)</text>
<text class="t" x="333.2" y="286.62" font-size="6.12" text-anchor="end" font-style="italic" fill="#222">1p32/KMT2A::EPS15</text>
<text class="t" x="350.2" y="286.62" font-size="6.1" text-anchor="middle" fill="#222">10 (0)</text>
<text class="t" x="377.62" y="286.62" font-size="6.1" text-anchor="middle" fill="#222">8 (1)</text>
<text class="t" x="405.04" y="286.62" font-size="6.1" text-anchor="middle" fill="#222">1 (8)</text>
<text class="t" x="432.46" y="286.62" font-size="6.1" text-anchor="middle" fill="#222">0 (9)</text>
<text class="t" x="459.88" y="286.62" font-size="6.1" text-anchor="middle" fill="#222">0 (9)</text>
<text class="t" x="487.3" y="286.62" font-size="6.1" text-anchor="middle" fill="#222">0 (9)</text>
<text class="t" x="333.2" y="292.88" font-size="6.12" text-anchor="end" font-style="italic" fill="#222">17q21</text>
<text class="t" x="350.2" y="292.88" font-size="6.1" text-anchor="middle" fill="#222">11 (0)</text>
<text class="t" x="377.62" y="292.88" font-size="6.1" text-anchor="middle" fill="#222">7 (3)</text>
<text class="t" x="405.04" y="292.88" font-size="6.1" text-anchor="middle" fill="#222">3 (7)</text>
<text class="t" x="432.46" y="292.88" font-size="6.1" text-anchor="middle" fill="#222">1 (9)</text>
<text class="t" x="459.88" y="292.88" font-size="6.1" text-anchor="middle" fill="#222">1 (9)</text>
<text class="t" x="487.3" y="292.88" font-size="6.1" text-anchor="middle" fill="#222">0 (10)</text>
<path d="M282 306.3H290.2" stroke="#c4304e" stroke-width="1.3"/>
<text class="t" x="293.7" y="308.4" font-size="6.1" font-style="italic" fill="#222">10p11.2/KMT2A::ABI1</text>
<path d="M362.6 306.3H370.8" stroke="#27604f" stroke-width="1.3"/>
<text class="t" x="374.3" y="308.4" font-size="6.1" font-style="italic" fill="#222">6q27/KMT2A::AFDN</text>
<path d="M435.6 306.3H443.8" stroke="#8fcde0" stroke-width="1.3"/>
<text class="t" x="447.3" y="308.4" font-size="6.1" font-style="italic" fill="#222">10p12/KMT2A::MLLT10</text>
<path d="M282 316.05H290.2" stroke="#4a8a52" stroke-width="1.3"/>
<text class="t" x="293.7" y="318.15" font-size="6.1" font-style="italic" fill="#222">19p13.3/KMT2A::MLLT1</text>
<path d="M366 316.05H374.2" stroke="#7a4538" stroke-width="1.3"/>
<text class="t" x="377.7" y="318.15" font-size="6.1" font-style="italic" fill="#222">Other</text>
<path d="M398.6 316.05H406.8" stroke="#452a45" stroke-width="1.3"/>
<text class="t" x="410.3" y="318.15" font-size="6.1" font-style="italic" fill="#222">4q21/KMT2A::AFF1</text>
<path d="M471 316.05H479.2" stroke="#d8705c" stroke-width="1.3"/>
<text class="t" x="482.7" y="318.15" font-size="6.1" font-style="italic" fill="#222">19p13</text>
<path d="M282 325.8H290.2" stroke="#4672aa" stroke-width="1.3"/>
<text class="t" x="293.7" y="327.9" font-size="6.1" font-style="italic" fill="#222">19p13.1/KMT2A::ELL</text>
<path d="M358.5 325.8H366.7" stroke="#ec9470" stroke-width="1.3"/>
<text class="t" x="370.2" y="327.9" font-size="6.1" font-style="italic" fill="#222">17q12</text>
<path d="M395.2 325.8H403.4" stroke="#efcf5a" stroke-width="1.3"/>
<text class="t" x="406.9" y="327.9" font-size="6.1" font-style="italic" fill="#222">9p22/KMT2A::MLLT3</text>
<path d="M282 335.55H290.2" stroke="#dfe2c0" stroke-width="1.3"/>
<text class="t" x="293.7" y="337.65" font-size="6.1" font-style="italic" fill="#222">1q21/KMT2A::MLLT11</text>
<path d="M361 335.55H369.2" stroke="#7f97bc" stroke-width="1.3"/>
<text class="t" x="372.7" y="337.65" font-size="6.1" font-style="italic" fill="#222">Xq24/KMT2A::SEPT6</text>
<path d="M438.8 335.55H447" stroke="#8e8e98" stroke-width="1.3"/>
<text class="t" x="450.5" y="337.65" font-size="6.1" font-style="italic" fill="#222">1p32/KMT2A::EPS15</text>
<path d="M282 345.3H290.2" stroke="#c9b4a2" stroke-width="1.3"/>
<text class="t" x="293.7" y="347.4" font-size="6.1" font-style="italic" fill="#222">17q21</text>
<text x="134.8" y="367.2" font-size="10.9" font-weight="bold" fill="#000" stroke="#000" stroke-width="0.25">C</text>
<path d="M210.5 372.5V519H356.8" fill="none" stroke="#2a2a2a" stroke-width="1.1"/>
<path d="M207.7 512.7H210.5M207.7 478.4H210.5M207.7 444.1H210.5M207.7 409.8H210.5M207.7 375.5H210.5M217.2 519V521.6M244.68 519V521.6M272.16 519V521.6M299.64 519V521.6M327.12 519V521.6M354.6 519V521.6" stroke="#2a2a2a" stroke-width="0.9"/>
<text class="t" x="204.5" y="514.5" font-size="6.2" text-anchor="end" fill="#1a1a1a">0%</text>
<text class="t" x="204.5" y="480.2" font-size="6.2" text-anchor="end" fill="#1a1a1a">25%</text>
<text class="t" x="204.5" y="445.9" font-size="6.2" text-anchor="end" fill="#1a1a1a">50%</text>
<text class="t" x="204.5" y="411.6" font-size="6.2" text-anchor="end" fill="#1a1a1a">75%</text>
<text class="t" x="204.5" y="377.3" font-size="6.2" text-anchor="end" fill="#1a1a1a">100%</text>
<text class="t" x="217.2" y="530.9" font-size="6.2" text-anchor="middle" fill="#1a1a1a">0</text>
<text class="t" x="244.68" y="530.9" font-size="6.2" text-anchor="middle" fill="#1a1a1a">3</text>
<text class="t" x="272.16" y="530.9" font-size="6.2" text-anchor="middle" fill="#1a1a1a">6</text>
<text class="t" x="299.64" y="530.9" font-size="6.2" text-anchor="middle" fill="#1a1a1a">9</text>
<text class="t" x="327.12" y="530.9" font-size="6.2" text-anchor="middle" fill="#1a1a1a">12</text>
<text class="t" x="354.6" y="530.9" font-size="6.2" text-anchor="middle" fill="#1a1a1a">15</text>
<text x="283.5" y="542" font-size="7.2" text-anchor="middle" textLength="72" lengthAdjust="spacingAndGlyphs" fill="#3a3a3a" font-weight="bold">Years from date of diagnosis</text>
<text transform="translate(183.2 446.6) rotate(-90)" x="0" y="0" font-size="7.2" text-anchor="middle" textLength="49" lengthAdjust="spacingAndGlyphs" fill="#3a3a3a" font-weight="bold">Overall survival (%)</text>
<text x="239.9" y="501.6" class="t" font-size="5.95" fill="#222"><tspan font-style="italic">P</tspan> &lt; .01</text>
<path d="M217.2 375.5H221.78V381.26H233.69V386.06H295.98" fill="none" stroke="#8e8e98" stroke-width="1.25"/>
<path d="M217.2 375.5H221.78V381.26H233.69V388.53H317.04" fill="none" stroke="#7f97bc" stroke-width="1.25"/>
<path d="M217.2 375.5H219.95V380.58H222.7V385.65H225.44V390.73H228.19V395.81H230.94V400.88H234.6V407.06H249.26V412.41H317.04" fill="none" stroke="#dfe2c0" stroke-width="1.25"/>
<path d="M217.2 375.5H219.95V386.06H224.53V396.63H229.11V407.19H231.86V418.03H345.44" fill="none" stroke="#c9b4a2" stroke-width="1.25"/>
<path d="M217.2 375.5H218.34V380.77H219.49V385.35H220.63V389.34H221.78V392.81H222.92V395.84H224.07V398.47H225.21V400.76H226.36V402.75H227.5V404.48H228.65V405.99H229.79V407.3H230.94V408.45H232.08V409.44H233.23V410.31H234.38V411.06H235.52V411.72H236.66V412.29H237.81V412.79H238.95V413.22H240.1V413.59H241.25V413.92H242.39V414.21H243.53V414.45H244.68V414.67H245.82V414.86H246.97V415.02H248.11V415.16H249.26V415.29H255.67V416.66H267.58V418.03H281.32V418.72H344.52" fill="none" stroke="#efcf5a" stroke-width="1.25"/>
<path d="M217.2 375.5H218.84V385.04H220.47V392.42H222.11V398.15H223.74V402.59H225.38V406.02H227.01V408.69H228.65V410.75H230.29V412.35H231.92V413.59H233.56V414.55H235.19V415.29H236.83V415.87H238.46V416.31H240.1V416.66H244.68V418.72H253.84V419.95H313.38" fill="none" stroke="#4672aa" stroke-width="1.25"/>
<path d="M217.2 375.5H218.34V384.94H219.49V392.6H220.63V398.82H221.78V403.87H222.92V407.97H224.07V411.3H225.21V414H226.36V416.19H227.5V417.98H228.65V419.42H229.79V420.6H230.94V421.55H232.08V422.33H233.23V422.95H234.38V423.47H235.52V423.88H236.66V424.22H237.81V424.49H238.95V424.71H240.1V424.89H244.68V426.95H253.84V428.73H258.42V429.42H329.5" fill="none" stroke="#7a4538" stroke-width="1.25"/>
<path d="M217.2 375.5H218.12V378.24H219.49V380.99H220.86V385.1H222.24V389.22H223.61V394.71H224.99V398.82H226.36V402.94H227.73V408.43H229.11V413.92H230.48V419.4H231.86V423.52H233.69V427.64H235.52V431.07H238.27V433.81H241.02V435.87H244.68V437.24H249.26V438.34H258.42V439.16H272.16V439.57H346.36" fill="none" stroke="#8fcde0" stroke-width="1.25"/>
<path d="M217.2 375.5H219.03V382.36H222.7V389.22H226.36V396.08H231.86V409.8H235.52V416.66H244.68V423.52H256.59V430.38H263.92V439.3H346.36" fill="none" stroke="#d8705c" stroke-width="1.25"/>
<path d="M217.2 375.5H218.77V389.39H220.34V399.83H221.91V407.68H223.48V413.58H225.05V418.01H226.62V421.34H228.19V423.84H229.76V425.72H231.33V427.13H232.9V428.19H234.47V428.99H236.04V429.59H237.61V430.04H239.18V430.38H244.68V433.12H249.26V437.24H253.84V439.98H257.5V442.04H330.78" fill="none" stroke="#4a8a52" stroke-width="1.25"/>
<path d="M217.2 375.5H219.95V389.22H222.7V402.94H230.94V416.66H247.43V430.38H255.67V444.1H293.23" fill="none" stroke="#ec9470" stroke-width="1.25"/>
<path d="M217.2 375.5H219.03V381.26H220.86V386.89H222.7V392.65H224.53V404.04H226.36V415.56H228.19V426.95H229.11V435.32H250.63V442.73H309.72" fill="none" stroke="#c4304e" stroke-width="1.25"/>
<path d="M217.2 375.5H218.12V378.24H219.03V380.99H220.41V383.73H221.32V387.85H222.24V391.96H223.61V396.08H224.53V400.2H225.9V404.31H227.28V408.43H228.65V413.92H230.02V418.03H231.4V421.46H234.6V428.6H237.35V431.75H240.1V434.5H243.76V438.89H245.6V442.73H246.97V445.88H249.26V449.59H251.55V452.88H253.84V456.45H255.67V460.02H301.47V470.17H327.12" fill="none" stroke="#27604f" stroke-width="1.25"/>
<path d="M217.2 375.5H217.2V397.18H218.57V410.21H220.86V422.15H222.7V433.12H224.99V444.1H232.31V478.4H276.74" fill="none" stroke="#452a45" stroke-width="1.35"/>
<path d="M376 386.3H384.7" stroke="#8e8e98" stroke-width="1.3"/>
<text class="t" x="388.2" y="388.4" font-size="6.1" font-style="italic" fill="#222">1p32/KMT2A::EPS15</text>
<path d="M376 396.2H384.7" stroke="#7f97bc" stroke-width="1.3"/>
<text class="t" x="388.2" y="398.3" font-size="6.1" font-style="italic" fill="#222">Xq24/KMT2A::SEPT6</text>
<path d="M376 406.2H384.7" stroke="#dfe2c0" stroke-width="1.3"/>
<text class="t" x="388.2" y="408.3" font-size="6.1" font-style="italic" fill="#222">1q21/KMT2A::MLLT11</text>
<path d="M376 414.9H384.7" stroke="#c9b4a2" stroke-width="1.3"/>
<text class="t" x="388.2" y="417" font-size="6.1" font-style="italic" fill="#222">17q21</text>
<path d="M376 423.8H384.7" stroke="#efcf5a" stroke-width="1.3"/>
<text class="t" x="388.2" y="425.9" font-size="6.1" font-style="italic" fill="#222">9p22/KMT2A::MLLT3</text>
<path d="M376 433.7H384.7" stroke="#4672aa" stroke-width="1.3"/>
<text class="t" x="388.2" y="435.8" font-size="6.1" font-style="italic" fill="#222">19p13.1/KMT2A::ELL</text>
<path d="M376 442.3H384.7" stroke="#7a4538" stroke-width="1.3"/>
<text class="t" x="388.2" y="444.4" font-size="6.1" font-style="italic" fill="#222">Other</text>
<path d="M376 449.7H384.7" stroke="#8fcde0" stroke-width="1.3"/>
<text class="t" x="388.2" y="451.8" font-size="6.1" font-style="italic" fill="#222">10p12/KMT2A::MLLT10</text>
<path d="M376 457.1H384.7" stroke="#d8705c" stroke-width="1.3"/>
<text class="t" x="388.2" y="459.2" font-size="6.1" font-style="italic" fill="#222">19p13</text>
<path d="M376 464.9H384.7" stroke="#4a8a52" stroke-width="1.3"/>
<text class="t" x="388.2" y="467" font-size="6.1" font-style="italic" fill="#222">19p13.3/KMT2A::MLLT1</text>
<path d="M376 472.2H384.7" stroke="#c4304e" stroke-width="1.3"/>
<text class="t" x="388.2" y="474.3" font-size="6.1" font-style="italic" fill="#222">10p11.2/KMT2A::ABI1</text>
<path d="M376 480.3H384.7" stroke="#ec9470" stroke-width="1.3"/>
<text class="t" x="388.2" y="482.4" font-size="6.1" font-style="italic" fill="#222">17q12</text>
<path d="M376 488.3H384.7" stroke="#27604f" stroke-width="1.3"/>
<text class="t" x="388.2" y="490.4" font-size="6.1" font-style="italic" fill="#222">6q27/KMT2A::AFDN</text>
<path d="M376 496.4H384.7" stroke="#452a45" stroke-width="1.3"/>
<text class="t" x="388.2" y="498.5" font-size="6.1" font-style="italic" fill="#222">4q21/KMT2A::AFF1</text>
<text class="t" x="146" y="552.5" font-size="6" fill="#222">Number at risk (number censored)</text>
<text class="t" x="201.5" y="562.7" font-size="6.12" text-anchor="end" font-style="italic" fill="#222">1p32/KMT2A::EPS15</text>
<text class="t" x="217.2" y="562.7" font-size="6.1" text-anchor="middle" fill="#222">13 (0)</text>
<text class="t" x="244.68" y="562.7" font-size="6.1" text-anchor="middle" fill="#222">11 (1)</text>
<text class="t" x="272.16" y="562.7" font-size="6.1" text-anchor="middle" fill="#222">2 (10)</text>
<text class="t" x="299.64" y="562.7" font-size="6.1" text-anchor="middle" fill="#222">0 (12)</text>
<text class="t" x="327.12" y="562.7" font-size="6.1" text-anchor="middle" fill="#222">0 (12)</text>
<text class="t" x="354.6" y="562.7" font-size="6.1" text-anchor="middle" fill="#222">0(12)</text>
<text class="t" x="201.5" y="569.12" font-size="6.12" text-anchor="end" font-style="italic" fill="#222">Xq24/KMT2A::SEPT6</text>
<text class="t" x="217.2" y="569.12" font-size="6.1" text-anchor="middle" fill="#222">21 (0)</text>
<text class="t" x="244.68" y="569.12" font-size="6.1" text-anchor="middle" fill="#222">14 (5)</text>
<text class="t" x="272.16" y="569.12" font-size="6.1" text-anchor="middle" fill="#222">7 (12)</text>
<text class="t" x="299.64" y="569.12" font-size="6.1" text-anchor="middle" fill="#222">4 (15)</text>
<text class="t" x="327.12" y="569.12" font-size="6.1" text-anchor="middle" fill="#222">0 (19)</text>
<text class="t" x="354.6" y="569.12" font-size="6.1" text-anchor="middle" fill="#222">0(19)</text>
<text class="t" x="201.5" y="575.54" font-size="6.12" text-anchor="end" font-style="italic" fill="#222">1q21/KMT2A::MLLT11</text>
<text class="t" x="217.2" y="575.54" font-size="6.1" text-anchor="middle" fill="#222">27 (0)</text>
<text class="t" x="244.68" y="575.54" font-size="6.1" text-anchor="middle" fill="#222">19 (2)</text>
<text class="t" x="272.16" y="575.54" font-size="6.1" text-anchor="middle" fill="#222">10 (10)</text>
<text class="t" x="299.64" y="575.54" font-size="6.1" text-anchor="middle" fill="#222">2 (18)</text>
<text class="t" x="327.12" y="575.54" font-size="6.1" text-anchor="middle" fill="#222">0 (20)</text>
<text class="t" x="354.6" y="575.54" font-size="6.1" text-anchor="middle" fill="#222">0(20)</text>
<text class="t" x="201.5" y="581.96" font-size="6.12" text-anchor="end" font-style="italic" fill="#222">17q21</text>
<text class="t" x="217.2" y="581.96" font-size="6.1" text-anchor="middle" fill="#222">13 (0)</text>
<text class="t" x="244.68" y="581.96" font-size="6.1" text-anchor="middle" fill="#222">8 (1)</text>
<text class="t" x="272.16" y="581.96" font-size="6.1" text-anchor="middle" fill="#222">3 (8)</text>
<text class="t" x="299.64" y="581.96" font-size="6.1" text-anchor="middle" fill="#222">1 (8)</text>
<text class="t" x="327.12" y="581.96" font-size="6.1" text-anchor="middle" fill="#222">1 (8)</text>
<text class="t" x="354.6" y="581.96" font-size="6.1" text-anchor="middle" fill="#222">0(9)</text>
<text class="t" x="201.5" y="588.38" font-size="6.12" text-anchor="end" font-style="italic" fill="#222">9p22/KMT2A::MLLT3</text>
<text class="t" x="217.2" y="588.38" font-size="6.1" text-anchor="middle" fill="#222">522 (0)</text>
<text class="t" x="244.68" y="588.38" font-size="6.1" text-anchor="middle" fill="#222">312 (72)</text>
<text class="t" x="272.16" y="588.38" font-size="6.1" text-anchor="middle" fill="#222">143 (230)</text>
<text class="t" x="299.64" y="588.38" font-size="6.1" text-anchor="middle" fill="#222">53 (319)</text>
<text class="t" x="327.12" y="588.38" font-size="6.1" text-anchor="middle" fill="#222">2 (370)</text>
<text class="t" x="354.6" y="588.38" font-size="6.1" text-anchor="middle" fill="#222">0(372)</text>
<text class="t" x="201.5" y="594.8" font-size="6.12" text-anchor="end" font-style="italic" fill="#222">19p13.1/KMT2A::ELL</text>
<text class="t" x="217.2" y="594.8" font-size="6.1" text-anchor="middle" fill="#222">72 (0)</text>
<text class="t" x="244.68" y="594.8" font-size="6.1" text-anchor="middle" fill="#222">44 (7)</text>
<text class="t" x="272.16" y="594.8" font-size="6.1" text-anchor="middle" fill="#222">18 (32)</text>
<text class="t" x="299.64" y="594.8" font-size="6.1" text-anchor="middle" fill="#222">10 (40)</text>
<text class="t" x="327.12" y="594.8" font-size="6.1" text-anchor="middle" fill="#222">0 (50)</text>
<text class="t" x="354.6" y="594.8" font-size="6.1" text-anchor="middle" fill="#222">0(50)</text>
<text class="t" x="201.5" y="601.22" font-size="6.12" text-anchor="end" font-style="italic" fill="#222">Other</text>
<text class="t" x="217.2" y="601.22" font-size="6.1" text-anchor="middle" fill="#222">124 (0)</text>
<text class="t" x="244.68" y="601.22" font-size="6.1" text-anchor="middle" fill="#222">69 (8)</text>
<text class="t" x="272.16" y="601.22" font-size="6.1" text-anchor="middle" fill="#222">26 (51)</text>
<text class="t" x="299.64" y="601.22" font-size="6.1" text-anchor="middle" fill="#222">9 (68)</text>
<text class="t" x="327.12" y="601.22" font-size="6.1" text-anchor="middle" fill="#222">3 (74)</text>
<text class="t" x="354.6" y="601.22" font-size="6.1" text-anchor="middle" fill="#222">0(77)</text>
<text class="t" x="201.5" y="607.64" font-size="6.12" text-anchor="end" font-style="italic" fill="#222">10p12/KMT2A::MLLT10</text>
<text class="t" x="217.2" y="607.64" font-size="6.1" text-anchor="middle" fill="#222">214 (0)</text>
<text class="t" x="244.68" y="607.64" font-size="6.1" text-anchor="middle" fill="#222">107 (17)</text>
<text class="t" x="272.16" y="607.64" font-size="6.1" text-anchor="middle" fill="#222">52 (67)</text>
<text class="t" x="299.64" y="607.64" font-size="6.1" text-anchor="middle" fill="#222">20 (99)</text>
<text class="t" x="327.12" y="607.64" font-size="6.1" text-anchor="middle" fill="#222">2 (117)</text>
<text class="t" x="354.6" y="607.64" font-size="6.1" text-anchor="middle" fill="#222">0(119)</text>
<text class="t" x="201.5" y="614.06" font-size="6.12" text-anchor="end" font-style="italic" fill="#222">19p13</text>
<text class="t" x="217.2" y="614.06" font-size="6.1" text-anchor="middle" fill="#222">20 (0)</text>
<text class="t" x="244.68" y="614.06" font-size="6.1" text-anchor="middle" fill="#222">11 (3)</text>
<text class="t" x="272.16" y="614.06" font-size="6.1" text-anchor="middle" fill="#222">6 (6)</text>
<text class="t" x="299.64" y="614.06" font-size="6.1" text-anchor="middle" fill="#222">4 (8)</text>
<text class="t" x="327.12" y="614.06" font-size="6.1" text-anchor="middle" fill="#222">2 (10)</text>
<text class="t" x="354.6" y="614.06" font-size="6.1" text-anchor="middle" fill="#222">0(12)</text>
<text class="t" x="201.5" y="620.48" font-size="6.12" text-anchor="end" font-style="italic" fill="#222">19p13.3/KMT2A::MLLT1</text>
<text class="t" x="217.2" y="620.48" font-size="6.1" text-anchor="middle" fill="#222">55 (0)</text>
<text class="t" x="244.68" y="620.48" font-size="6.1" text-anchor="middle" fill="#222">30 (4)</text>
<text class="t" x="272.16" y="620.48" font-size="6.1" text-anchor="middle" fill="#222">10 (20)</text>
<text class="t" x="299.64" y="620.48" font-size="6.1" text-anchor="middle" fill="#222">6 (24)</text>
<text class="t" x="327.12" y="620.48" font-size="6.1" text-anchor="middle" fill="#222">1 (29)</text>
<text class="t" x="354.6" y="620.48" font-size="6.1" text-anchor="middle" fill="#222">0(30)</text>
<text class="t" x="201.5" y="626.9" font-size="6.12" text-anchor="end" font-style="italic" fill="#222">10p11.2/KMT2A::ABI1</text>
<text class="t" x="217.2" y="626.9" font-size="6.1" text-anchor="middle" fill="#222">24 (0)</text>
<text class="t" x="244.68" y="626.9" font-size="6.1" text-anchor="middle" fill="#222">10 (4)</text>
<text class="t" x="272.16" y="626.9" font-size="6.1" text-anchor="middle" fill="#222">6 (7)</text>
<text class="t" x="299.64" y="626.9" font-size="6.1" text-anchor="middle" fill="#222">2 (11)</text>
<text class="t" x="327.12" y="626.9" font-size="6.1" text-anchor="middle" fill="#222">0 (13)</text>
<text class="t" x="354.6" y="626.9" font-size="6.1" text-anchor="middle" fill="#222">0(13)</text>
<text class="t" x="201.5" y="633.32" font-size="6.12" text-anchor="end" font-style="italic" fill="#222">17q12</text>
<text class="t" x="217.2" y="633.32" font-size="6.1" text-anchor="middle" fill="#222">10 (0)</text>
<text class="t" x="244.68" y="633.32" font-size="6.1" text-anchor="middle" fill="#222">6 (1)</text>
<text class="t" x="272.16" y="633.32" font-size="6.1" text-anchor="middle" fill="#222">3 (3)</text>
<text class="t" x="299.64" y="633.32" font-size="6.1" text-anchor="middle" fill="#222">0 (6)</text>
<text class="t" x="327.12" y="633.32" font-size="6.1" text-anchor="middle" fill="#222">0 (6)</text>
<text class="t" x="354.6" y="633.32" font-size="6.1" text-anchor="middle" fill="#222">0(6)</text>
<text class="t" x="201.5" y="639.74" font-size="6.12" text-anchor="end" font-style="italic" fill="#222">6q27/KMT2A::AFDN</text>
<text class="t" x="217.2" y="639.74" font-size="6.1" text-anchor="middle" fill="#222">90 (0)</text>
<text class="t" x="244.68" y="639.74" font-size="6.1" text-anchor="middle" fill="#222">40 (9)</text>
<text class="t" x="272.16" y="639.74" font-size="6.1" text-anchor="middle" fill="#222">13 (27)</text>
<text class="t" x="299.64" y="639.74" font-size="6.1" text-anchor="middle" fill="#222">5 (35)</text>
<text class="t" x="327.12" y="639.74" font-size="6.1" text-anchor="middle" fill="#222">1 (38)</text>
<text class="t" x="354.6" y="639.74" font-size="6.1" text-anchor="middle" fill="#222">0 (39)</text>
<text class="t" x="201.5" y="646.16" font-size="6.12" text-anchor="end" font-style="italic" fill="#222">4q21/KMT2A::AFF1</text>
<text class="t" x="217.2" y="646.16" font-size="6.1" text-anchor="middle" fill="#222">12 (0)</text>
<text class="t" x="244.68" y="646.16" font-size="6.1" text-anchor="middle" fill="#222">2 (1)</text>
<text class="t" x="272.16" y="646.16" font-size="6.1" text-anchor="middle" fill="#222">1 (2)</text>
<text class="t" x="299.64" y="646.16" font-size="6.1" text-anchor="middle" fill="#222">0 (3)</text>
<text class="t" x="327.12" y="646.16" font-size="6.1" text-anchor="middle" fill="#222">0 (3)</text>
<text class="t" x="354.6" y="646.16" font-size="6.1" text-anchor="middle" fill="#222">0(3)</text>
<rect x="0.5" y="0.5" width="519" height="653" fill="none" stroke="#6a6a6a" stroke-width="1"/>
</svg>
</body></html>
